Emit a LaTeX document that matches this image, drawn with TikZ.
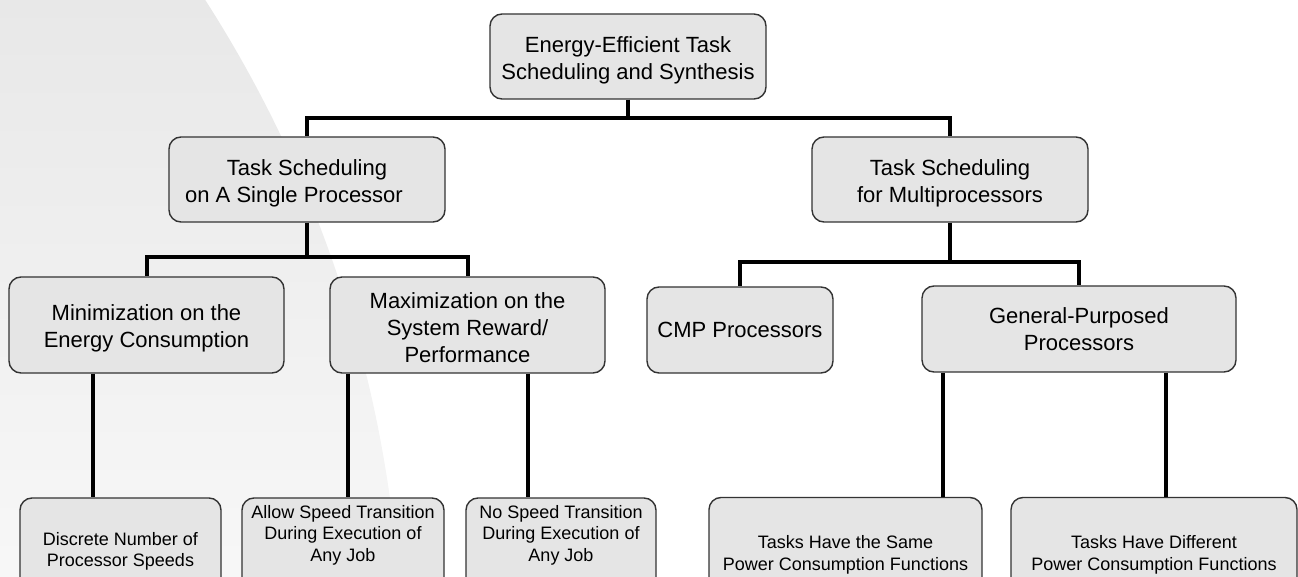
\documentclass[tikz,border=0pt]{standalone}
\usepackage{fontspec}
\setmainfont{Liberation Sans}
\begin{document}
\begin{tikzpicture}[x=1pt, y=-1pt,
  box/.style={draw=black!80, line width=1.4pt, fill=black!10,
    rounded corners=12pt, inner sep=0pt, align=center},
  big/.style={font=\fontsize{22}{27}\selectfont},
  small/.style={font=\fontsize{18}{21.5}\selectfont},
  % an invisible strut taller than the text block pushes the text lower in its box
  lower/.style={execute at begin node={\rule{0pt}{#1}}},
  lbl/.style={inner sep=0pt, align=center},
  conn/.style={line width=4pt, black},
]
\useasboundingbox (0,0) rectangle (1298,577);
\clip (0,0) rectangle (1298,577);

% soft grey disc in the back, left side
\begin{scope}
  \clip (-843,672) circle [radius=1245pt];
  \shade[top color=black!9, bottom color=black!3] (0,0) rectangle (1298,577);
\end{scope}

% level 0
\node[box, big, lower=51pt, minimum width=276pt, minimum height=85pt] (root) at (628,56.5)
  {Energy-Efficient Task\\Scheduling and Synthesis};

% level 1
\node[box, big, lower=51pt, minimum width=276pt, minimum height=85pt] (single) at (307,179.5)
  {Task Scheduling\\on A Single Processor\hspace*{26pt}};
\node[box, big, lower=51pt, minimum width=276pt, minimum height=85pt] (multi) at (950,179.5)
  {Task Scheduling\\for Multiprocessors};

% level 2
\node[box, big, lower=49pt, minimum width=275pt, minimum height=96pt] (minim) at (146.5,325)
  {Minimization on the\\Energy Consumption};
\node[box, big, lower=76pt, minimum width=275pt, minimum height=96pt] (maxim) at (467.5,325)
  {Maximization on the\\System Reward/\\Performance};
\node[box, big, minimum width=186pt, minimum height=86pt] (cmp) at (740,330)
  {CMP Processors};
\node[box, big, minimum width=314pt, minimum height=86pt] (gen) at (1079,329)
  {General-Purposed\\Processors};

% level 3
\node[box, small, minimum width=201pt, minimum height=107pt] (disc) at (120.5,551.5)
  {Discrete Number of\\Processor Speeds};
\node[box, minimum width=202pt, minimum height=107pt] (allow) at (343,551.5) {};
\node[lbl, small] (allowt) at (343,535)
  {Allow Speed Transition\\During Execution of\\Any Job};
\node[box, minimum width=190pt, minimum height=107pt] (nospeed) at (561,551.5) {};
\node[lbl, small] (nospeedt) at (561,535)
  {No Speed Transition\\During Execution of\\Any Job};
\node[box, small, lower=42.5pt, minimum width=273pt, minimum height=107pt] (same) at (845.5,551)
  {Tasks Have the Same\\Power Consumption Functions};
\node[box, small, lower=42.5pt, minimum width=286pt, minimum height=107pt] (diff) at (1154,551)
  {Tasks Have Different\\Power Consumption Functions};

% junction points of the elbow connectors
\coordinate (j0) at (628,118);
\coordinate (j1) at (307,257);
\coordinate (j2) at (950,262);
% x positions of the straight drops to the bottom row
\coordinate (x1) at (93,0);
\coordinate (x2) at (348,0);
\coordinate (x3) at (528,0);
\coordinate (x4) at (943,0);
\coordinate (x5) at (1166,0);

\draw[conn] (root.south) -- (j0);
\draw[conn] (j0) -| (single.north);
\draw[conn] (j0) -| (multi.north);

\draw[conn] (single.south) -- (j1);
\draw[conn] (j1) -| (minim.north);
\draw[conn] (j1) -| (maxim.north);

\draw[conn] (multi.south) -- (j2);
\draw[conn] (j2) -| (cmp.north);
\draw[conn] (j2) -| (gen.north);

\draw[conn] (minim.south -| x1) -- (disc.north -| x1);
\draw[conn] (maxim.south -| x2) -- (allow.north -| x2);
\draw[conn] (maxim.south -| x3) -- (nospeed.north -| x3);
\draw[conn] (gen.south -| x4) -- (same.north -| x4);
\draw[conn] (gen.south -| x5) -- (diff.north -| x5);
\end{tikzpicture}
\end{document}
